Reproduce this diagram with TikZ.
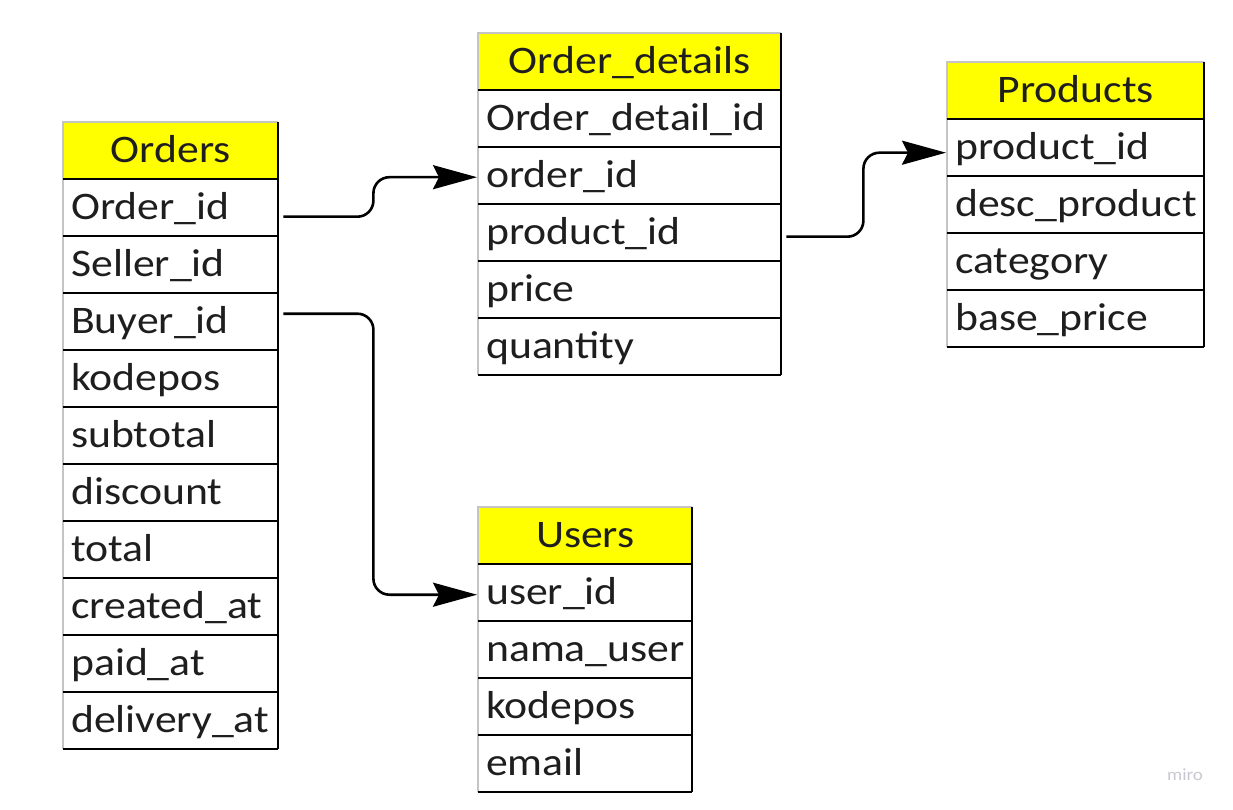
\documentclass[tikz,border=0pt]{standalone}
\usepackage{fontspec}
\setmainfont{Carlito}[FakeStretch=1.12]
\usepackage{xcolor}
\usetikzlibrary{positioning,arrows.meta}

\definecolor{hdryellow}{HTML}{FFFF00}
\definecolor{gridgray}{HTML}{C4C4C4}
\definecolor{inkgray}{HTML}{1E1E1E}
\definecolor{miroGray}{HTML}{C8C8D2}

\begin{document}
\begin{tikzpicture}[
    x=1pt, y=-1pt,
    cell/.style={anchor=north west, inner xsep=8pt, inner ysep=0pt, minimum height=57pt,
        text height=24.5pt, text depth=0pt, text width=#1, text=inkgray,
        font=\fontsize{39}{46}\selectfont},
    hdr/.style={cell=#1, fill=hdryellow, align=center},
    fld/.style={cell=#1, fill=white, align=left},
    darkedge/.style={draw=black, line width=2pt},
    lightedge/.style={draw=gridgray, line width=1.5pt},
    link/.style={-{Stealth[length=44pt, width=24pt, inset=6pt]}, line width=2.6pt,
        rounded corners=16pt, shorten >=1pt}
]
    \useasboundingbox (0,0) rectangle (1233,810);

    % tables
    \node[hdr=199pt] (ord) at (63,122) {Orders};
    \foreach \f [count=\i] in {Order\_id, Seller\_id, Buyer\_id, kodepos, subtotal,
        discount, total, created\_at, paid\_at, delivery\_at}
        \node[fld=199pt] (ord\i) at (63, 122+57*\i) {\f};

    \node[hdr=287pt] (od) at (478,33) {Order\_details};
    \foreach \f [count=\i] in {Order\_detail\_id, order\_id, product\_id, price, quantity}
        \node[fld=287pt] (od\i) at (478, 33+57*\i) {\f};

    \node[hdr=241pt] (prd) at (947,62) {Products};
    \foreach \f [count=\i] in {product\_id, desc\_product, category, base\_price}
        \node[fld=241pt] (prd\i) at (947, 62+57*\i) {\f};

    \node[hdr=198pt] (usr) at (478,507) {Users};
    \foreach \f [count=\i] in {user\_id, nama\_user, kodepos, email}
        \node[fld=198pt] (usr\i) at (478, 507+57*\i) {\f};

    % grid lines
    \foreach \t/\n in {ord/10, od/5, prd/4, usr/4} {
        \draw[lightedge] (\t\n.south west) -- (\t.north west) -- (\t.north east);
        \draw[darkedge] (\t.south west) -- (\t.south east);
        \foreach \k in {1,...,\n}
            \draw[darkedge] (\t\k.south west) -- (\t\k.south east);
        \draw[darkedge] (\t.north east) -- (\t\n.south east);
    }

    % relations
    \draw[link] ([xshift=5pt, yshift=-9pt]ord1.east) -- ++(90,0) |- ([yshift=-1.5pt]od2.west);
    \draw[link] ([xshift=5pt, yshift=8pt]ord3.east) -- ++(90,0) |- ([yshift=-2pt]usr1.west);
    \draw[link] ([xshift=5pt, yshift=-4pt]od3.east) -- ++(77,0) |- ([yshift=-5pt]prd1.west);

    \node[text=miroGray, font=\fontsize{17}{20}\selectfont] (miro) at (1185,775) {miro};
\end{tikzpicture}
\end{document}
